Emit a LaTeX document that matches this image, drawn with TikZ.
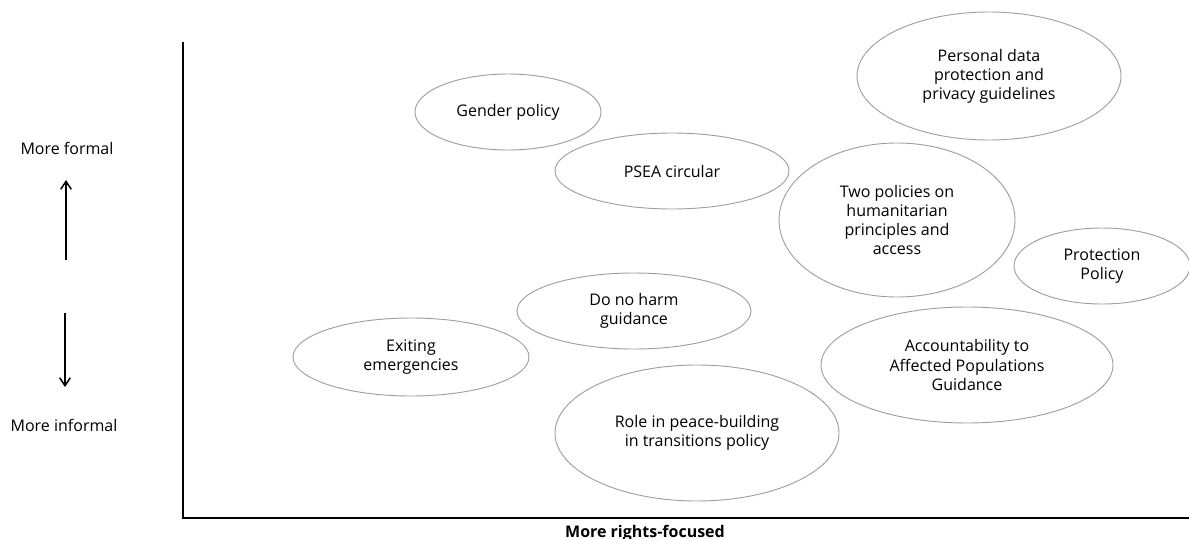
\documentclass[tikz,border=0pt]{standalone}
\usepackage{fontspec}
\setmainfont{Open Sans}
\usetikzlibrary{shapes.geometric, arrows.meta}

\begin{document}
\begin{tikzpicture}[x=0.75pt, y=-0.75pt,
    font=\fontsize{12}{14.3}\selectfont,
    bubble/.style={draw=gray!75, line width=0.7pt, ellipse, inner sep=0pt, align=center},
    axis/.style={line width=1.7pt},
    dir/.style={-{Straight Barb[length=6pt, width=8pt]}, line width=1.1pt}]
    \useasboundingbox (0, 0) rectangle (1189, 539);

    \node (formal) at (67, 148) {More formal};
    \node (informal) at (64, 425) {More informal};
    \coordinate (up0) at (66, 260);
    \coordinate (up1) at (66, 180);
    \coordinate (dn0) at (65, 313);
    \coordinate (dn1) at (65, 387);

    \coordinate (ytop) at (183, 43);
    \coordinate (orig) at (183, 518);
    \coordinate (xend) at (1192, 518);
    \node (rights) [anchor=base, font=\fontsize{12}{14.3}\selectfont\bfseries] at (645, 537) {More rights-focused};

    \node (gender) [bubble, minimum width=139.5pt, minimum height=57pt] at (508, 112) {Gender policy};
    \node (psea) [bubble, minimum width=175.5pt, minimum height=57pt] at (672, 171) {PSEA circular};
    \node (privacy) [bubble, minimum width=198pt, minimum height=96pt] at (989, 76) {Personal data\\protection and\\privacy guidelines};
    \node (access) [bubble, minimum width=177pt, minimum height=115.5pt] at (897, 220) {Two policies on\\humanitarian\\principles and\\access};
    \node (protect) [bubble, minimum width=132pt, minimum height=57pt] at (1102, 266) {Protection\\Policy};
    \node (harm) [bubble, minimum width=175.5pt, minimum height=57pt] at (634, 311) {Do no harm\\guidance};
    \node (exit) [bubble, minimum width=177pt, minimum height=58.5pt] at (411, 357) {Exiting\\emergencies};
    \node (aap) [bubble, minimum width=219pt, minimum height=87pt] at (967, 365) {Accountability to\\Affected Populations\\Guidance};
    \node (peace) [bubble, minimum width=213pt, minimum height=102pt] at (697, 433) {Role in peace-building\\in transitions policy};

    \draw[dir] (up0) -- (up1);
    \draw[dir] (dn0) -- (dn1);
    \draw[axis, line cap=rect] (ytop) -- (orig);
    \draw[axis, line width=2.2pt] (orig) -- (xend);
\end{tikzpicture}
\end{document}
